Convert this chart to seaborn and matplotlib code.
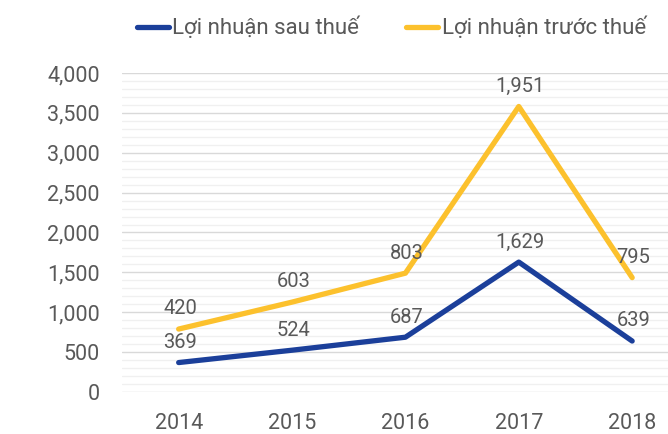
import matplotlib
matplotlib.use("Agg")
import matplotlib.pyplot as plt
from matplotlib.ticker import MultipleLocator, FuncFormatter
from matplotlib.lines import Line2D
import seaborn as sns
import pandas as pd

years = ["2014", "2015", "2016", "2017", "2018"]
after_tax = [369, 524, 687, 1629, 639]
before_tax = [420, 603, 803, 1951, 795]
series_names = ["Lợi nhuận sau thuế", "Lợi nhuận trước thuế"]
colors = ["#1b3f9a", "#fcc12d"]

sns.set_theme(style="white")
plt.rcParams["font.family"] = ["Roboto", "DejaVu Sans"]
text_color = "#595959"

stacked_top = [a + b for a, b in zip(after_tax, before_tax)]
df = pd.DataFrame({
    "year": years * 2,
    "value": after_tax + stacked_top,
    "label": after_tax + before_tax,
    "series": [series_names[0]] * 5 + [series_names[1]] * 5,
})

fig = plt.figure(figsize=(6.68, 4.34), dpi=100)
ax = fig.add_axes([0.1826, 0.0968, 0.8174, 0.735])

sns.lineplot(data=df, x="year", y="value", hue="series", palette=colors,
             linewidth=3.8, ax=ax, legend=False, sort=False,
             solid_capstyle="round")

for _, r in df.iterrows():
    ax.annotate(f"{r['label']:,}", (years.index(r["year"]), r["value"]),
                xytext=(1, 14.5), textcoords="offset points",
                ha="center", va="center", fontsize=14.5, color=text_color)

ax.set_ylim(0, 4000)
ax.set_xlim(-0.5, 4.316)
ax.yaxis.set_major_locator(MultipleLocator(500))
ax.yaxis.set_minor_locator(MultipleLocator(100))
ax.yaxis.set_major_formatter(FuncFormatter(lambda v, p: f"{int(v):,}"))
ax.grid(True, which="major", axis="y", color="#d9d9d9", linewidth=1)
ax.grid(True, which="minor", axis="y", color="#f0f0f0", linewidth=1)
ax.set_axisbelow(True)
for s in ax.spines.values():
    s.set_visible(False)
ax.tick_params(axis="both", which="both", length=0, labelsize=15.5,
               labelcolor=text_color)
ax.tick_params(axis="y", pad=16)
ax.tick_params(axis="x", pad=15)
ax.set_xlabel("")
ax.set_ylabel("")

handles = [Line2D([0], [0], color=c, linewidth=3.8, solid_capstyle="round")
           for c in colors]
fig.legend(handles, series_names, loc="center", bbox_to_anchor=(0.586, 0.935),
           ncol=2, frameon=False, fontsize=16, handlelength=1.45,
           handletextpad=0.15, columnspacing=2.1, labelcolor=text_color)

fig.savefig("out.png", dpi=100)
